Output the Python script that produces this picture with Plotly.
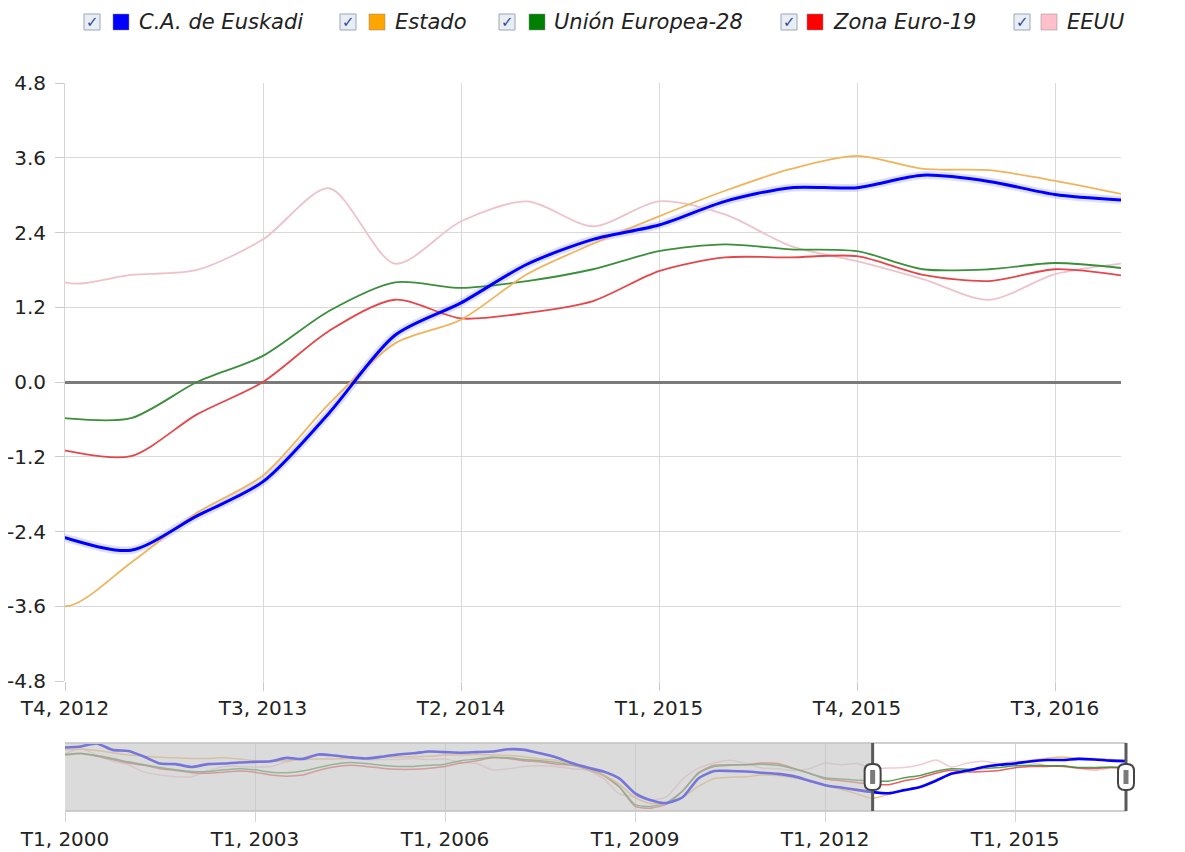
import plotly.graph_objects as go

# ---------------- data ----------------
quarters = [f"T{q}, {y}" for y in range(2000, 2017) for q in range(1, 5)]

euskadi = [5.3, 5.5, 6.0, 4.9, 4.7, 3.7, 2.5, 2.4, 1.9, 2.4, 2.5, 2.7,
           2.8, 2.9, 3.5, 3.3, 4.1, 3.9, 3.6, 3.4, 3.7, 4.1, 4.3, 4.6,
           4.5, 4.4, 4.5, 4.6, 5.0, 4.9, 4.3, 3.6, 2.6, 1.8, 1.1, -0.1,
           -2.7, -3.9, -4.4, -3.4, -0.1, 1.2, 1.2, 1.1, 0.9, 0.7, 0.3, -0.5,
           -1.3, -1.7, -2.1, -2.5,
           -2.7, -2.15, -1.6, -0.5,
           0.75, 1.27, 1.89, 2.29,
           2.52, 2.9, 3.12, 3.12,
           3.32, 3.22, 3.01, 2.92]
estado = [4.9, 5.0, 4.8, 4.4, 4.0, 3.8, 3.6, 3.5, 3.4, 3.4, 3.5, 3.3,
          3.0, 2.9, 3.0, 3.2, 3.3, 3.3, 3.4, 3.5, 3.6, 3.7, 3.7, 3.8,
          4.0, 4.0, 4.1, 4.0, 3.9, 3.7, 3.3, 3.1, 2.4, 1.6, 0.5, -1.1,
          -3.5, -4.5, -4.4, -3.4, -1.5, -0.1, 0.1, 0.2, 0.5, 0.4, 0.0, -0.6,
          -1.4, -2.0, -2.8, -3.6,
          -2.9, -2.1, -1.5, -0.35,
          0.62, 1.0, 1.73, 2.22,
          2.66, 3.07, 3.42, 3.63,
          3.42, 3.4, 3.23, 3.02]
ue28 = [4.1, 4.3, 3.9, 3.4, 2.8, 2.3, 1.8, 1.4, 1.1, 1.1, 1.4, 1.6,
        1.4, 1.0, 0.9, 1.2, 1.8, 2.4, 2.7, 2.5, 2.2, 2.0, 2.0, 2.2,
        2.4, 3.0, 3.3, 3.6, 3.5, 3.2, 3.0, 2.7, 2.3, 1.6, 0.5, -1.5,
        -4.7, -5.0, -4.3, -2.3, 0.8, 2.0, 2.2, 2.3, 2.4, 2.2, 1.6, 0.8,
        0.0, -0.2, -0.4, -0.58,
        -0.58, 0.0, 0.42, 1.14,
        1.6, 1.51, 1.62, 1.81,
        2.1, 2.21, 2.13, 2.1,
        1.81, 1.81, 1.91, 1.83]
zona_euro = [4.0, 4.2, 3.8, 3.2, 2.6, 2.2, 1.6, 1.3, 0.9, 0.8, 1.0, 1.2,
             1.0, 0.5, 0.3, 0.5, 1.3, 1.9, 2.2, 2.0, 1.7, 1.5, 1.5, 1.7,
             2.0, 2.6, 3.0, 3.5, 3.4, 3.0, 2.8, 2.4, 2.2, 1.5, 0.4, -1.6,
             -5.0, -5.3, -4.6, -2.3, 0.9, 2.2, 2.3, 2.3, 2.6, 2.5, 1.7, 0.8,
             -0.2, -0.5, -0.8, -1.1,
             -1.19, -0.52, 0.0, 0.82,
             1.32, 1.02, 1.11, 1.3,
             1.78, 2.0, 2.0, 2.02,
             1.72, 1.62, 1.81, 1.71]
eeuu = [4.2, 5.2, 4.0, 2.9, 2.3, 1.0, 0.5, 0.2, 0.2, 1.2, 2.0, 2.0,
        1.9, 2.0, 2.8, 3.5, 4.2, 3.9, 3.6, 3.2, 3.2, 3.2, 3.4, 3.2,
        3.3, 2.7, 2.5, 1.4, 1.6, 2.0, 2.1, 2.0, 1.6, 1.3, -0.1, -2.8,
        -3.3, -3.9, -3.3, -0.2, 1.7, 2.6, 3.1, 2.5, 1.7, 1.6, 1.3, 1.6,
        2.6, 2.3, 2.5, 1.6,
        1.72, 1.8, 2.29, 3.11,
        1.9, 2.58, 2.9, 2.5,
        2.9, 2.69, 2.18, 1.94,
        1.65, 1.32, 1.73, 1.9]

series_names = ["C.A. de Euskadi", "Estado", "Unión Europea-28", "Zona Euro-19", "EEUU"]
series_values = [euskadi, estado, ue28, zona_euro, eeuu]
legend_colors = ["#0000ff", "#ffa500", "#008000", "#ff0000", "#ffc0cb"]
line_colors = ["#0000ff", "#efb45c", "#3a8f3a", "#e4474b", "#eec2ca"]
line_widths = [3, 1.8, 1.8, 1.8, 1.8]

main_ticks = ["T4, 2012", "T3, 2013", "T2, 2014", "T1, 2015", "T4, 2015", "T3, 2016"]
nav_ticks = ["T1, 2000", "T1, 2003", "T1, 2006", "T1, 2009", "T1, 2012", "T1, 2015"]
y_ticks = [-4.8, -3.6, -2.4, -1.2, 0.0, 1.2, 2.4, 3.6, 4.8]
view_start = "T4, 2012"
view_end = "T4, 2016"

# ---------------- figure geometry ----------------
# page body has an 8px margin: figure is placed at (8, 8) in the window
OFF = 8
W, H = 1185 - OFF, 852 - OFF
ML = 65 - OFF              # plot left  (window x=65)
MT = 83 - OFF              # plot top   (window y=83)
MR = W - (1126 - OFF)      # navigator right (window x=1126)
MB = H - (811 - OFF)       # navigator bottom (window y=811)
PW, PH = W - ML - MR, H - MT - MB

def px_x(px):  # window pixel -> paper
    return (px - OFF - ML) / PW

def px_y(py):
    return (H - MB - (py - OFF)) / PH

i0 = quarters.index(view_start)
i1 = quarters.index(view_end)

fig = go.Figure()
FONT = "DejaVu Sans"

# main chart: halo + lines
for vals, col, w, n in zip(series_values, line_colors, line_widths, series_names):
    if n == "C.A. de Euskadi":
        fig.add_trace(go.Scatter(x=quarters, y=vals, mode="lines", xaxis="x", yaxis="y",
                                 line=dict(color="rgba(70,70,255,0.18)", width=8, shape="spline", smoothing=0.8),
                                 hoverinfo="skip", showlegend=False))
for vals, col, w, n in list(zip(series_values, line_colors, line_widths, series_names))[::-1]:
    fig.add_trace(go.Scatter(x=quarters, y=vals, mode="lines", name=n, xaxis="x", yaxis="y",
                             line=dict(color=col, width=w, shape="spline", smoothing=0.8),
                             showlegend=False))

# navigator lines
for vals, col, w, n in list(zip(series_values, line_colors, line_widths, series_names))[::-1]:
    fig.add_trace(go.Scatter(x=quarters, y=vals, mode="lines", name=n, xaxis="x2", yaxis="y2",
                             line=dict(color=col, width=(2.6 if w > 2 else 1.5), shape="spline", smoothing=0.6),
                             opacity=(1 if w > 2 else 0.85),
                             hoverinfo="skip", showlegend=False))

tick_text = [f"{v:.1f}" for v in y_ticks]
main_dom_x = [0, px_x(1121)]
main_dom_y = [px_y(681), 1]
nav_dom_y = [0, px_y(743)]

fig.update_layout(
    width=W, height=H,
    margin=dict(l=ML, r=MR, t=MT, b=MB, autoexpand=False),
    paper_bgcolor="white", plot_bgcolor="white",
    font=dict(family=FONT, size=20, color="#222"),
    showlegend=False,
    xaxis=dict(domain=main_dom_x, anchor="y", type="category", categoryarray=quarters,
               range=[i0, i1], tickvals=main_ticks, ticktext=main_ticks,
               showgrid=True, gridcolor="#d9d9d9", gridwidth=1, zeroline=False,
               ticks="outside", ticklen=9, tickcolor="#cccccc", showline=False,
               tickfont=dict(size=20, color="#222"), fixedrange=True, automargin=False),
    yaxis=dict(domain=main_dom_y, anchor="x", range=[-4.8, 4.8], tickvals=y_ticks, ticktext=tick_text,
               showgrid=True, gridcolor="#d9d9d9", gridwidth=1,
               zeroline=True, zerolinecolor="#7a7a7a", zerolinewidth=3,
               ticks="outside", ticklen=9, tickcolor="#cccccc",
               showline=True, linecolor="#d4d4d4", linewidth=1,
               tickfont=dict(size=20, color="#222"), ticklabelstandoff=5, fixedrange=True, automargin=False),
    yaxis3=dict(overlaying="y", side="right", anchor="x", range=[-4.8, 4.8], tickvals=y_ticks, ticktext=tick_text,
                showgrid=False, zeroline=False, ticks="outside", ticklen=9, tickcolor="#cccccc",
                showline=True, linecolor="#d4d4d4", linewidth=1,
                tickfont=dict(size=20, color="#222"), ticklabelstandoff=5, fixedrange=True, automargin=False),
    xaxis2=dict(domain=[0, 1], anchor="y2", type="category", categoryarray=quarters,
                range=[0, len(quarters) - 1], tickvals=nav_ticks, ticktext=nav_ticks,
                showgrid=True, gridcolor="#d4d4d4", zeroline=False,
                ticks="outside", ticklen=10, tickcolor="#d4d4d4", showline=False,
                tickfont=dict(size=20, color="#222"), fixedrange=True, automargin=False),
    yaxis2=dict(domain=nav_dom_y, anchor="x2", range=[-5.8, 6.1], showticklabels=False,
                showgrid=False, zeroline=False, ticks="", fixedrange=True, automargin=False),
)

shapes = []
# navigator borders
for yy in [0, 1]:
    shapes.append(dict(type="line", xref="x2 domain", yref="y2 domain", x0=0, x1=1, y0=yy, y1=yy,
                       line=dict(color="#cfcfcf", width=2), layer="above"))
# navigator mask (unselected region)
nx0 = i0 / (len(quarters) - 1)
nx1 = i1 / (len(quarters) - 1)
shapes.append(dict(type="rect", xref="paper", yref="y2 domain", x0=0, x1=nx0, y0=0, y1=1,
                   fillcolor="rgba(195,195,195,0.6)", line=dict(width=0), layer="above"))
# handles
yc = (nav_dom_y[0] + nav_dom_y[1]) / 2
for hx in [nx0, nx1]:
    shapes.append(dict(type="line", xref="paper", yref="y2 domain", x0=hx, x1=hx, y0=0, y1=1,
                       line=dict(color="#5a5a5a", width=3), layer="above"))
    shapes.append(dict(type="path", xref="paper", yref="paper", xsizemode="pixel", ysizemode="pixel",
                       xanchor=hx, yanchor=yc,
                       path="M -8,-6 L -8,6 Q -8,13 -1,13 L 1,13 Q 8,13 8,6 L 8,-6 Q 8,-13 1,-13 L -1,-13 Q -8,-13 -8,-6 Z",
                       fillcolor="white", line=dict(color="#444", width=2), layer="above"))
    shapes.append(dict(type="rect", xref="paper", yref="paper", xsizemode="pixel", ysizemode="pixel",
                       xanchor=hx, yanchor=yc, x0=-2.5, x1=2.5, y0=-7, y1=7,
                       fillcolor="#7a7a7a", line=dict(width=0), layer="above"))

# legend (checkbox + colour square + italic label), window pixel positions
annotations = []
cb_x = [92, 348, 507, 789, 1022]
sq_x = [121, 377, 537, 815, 1049]
tx_x = [137, 393, 552, 831, 1065]
ly = 22
for n, c, cx, sx, tx in zip(series_names, legend_colors, cb_x, sq_x, tx_x):
    shapes.append(dict(type="rect", xref="paper", yref="paper",
                       x0=px_x(cx - 8), x1=px_x(cx + 8), y0=px_y(ly + 8), y1=px_y(ly - 8),
                       fillcolor="#e9eef5", line=dict(color="#9aa6b8", width=1)))
    annotations.append(dict(xref="paper", yref="paper", x=px_x(cx), y=px_y(ly), text="✓",
                            showarrow=False, font=dict(family=FONT, size=15, color="#2b4a9a"),
                            xanchor="center", yanchor="middle"))
    shapes.append(dict(type="rect", xref="paper", yref="paper",
                       x0=px_x(sx - 8), x1=px_x(sx + 8), y0=px_y(ly + 8), y1=px_y(ly - 8),
                       fillcolor=c, line=dict(color="#888", width=0.5)))
    annotations.append(dict(xref="paper", yref="paper", x=px_x(tx), y=px_y(ly), text=f"<i>{n}</i>",
                            showarrow=False, font=dict(family=FONT, size=21, color="#222"),
                            xanchor="left", yanchor="middle"))

fig.update_layout(shapes=shapes, annotations=annotations)
fig.write_html("out.html")
